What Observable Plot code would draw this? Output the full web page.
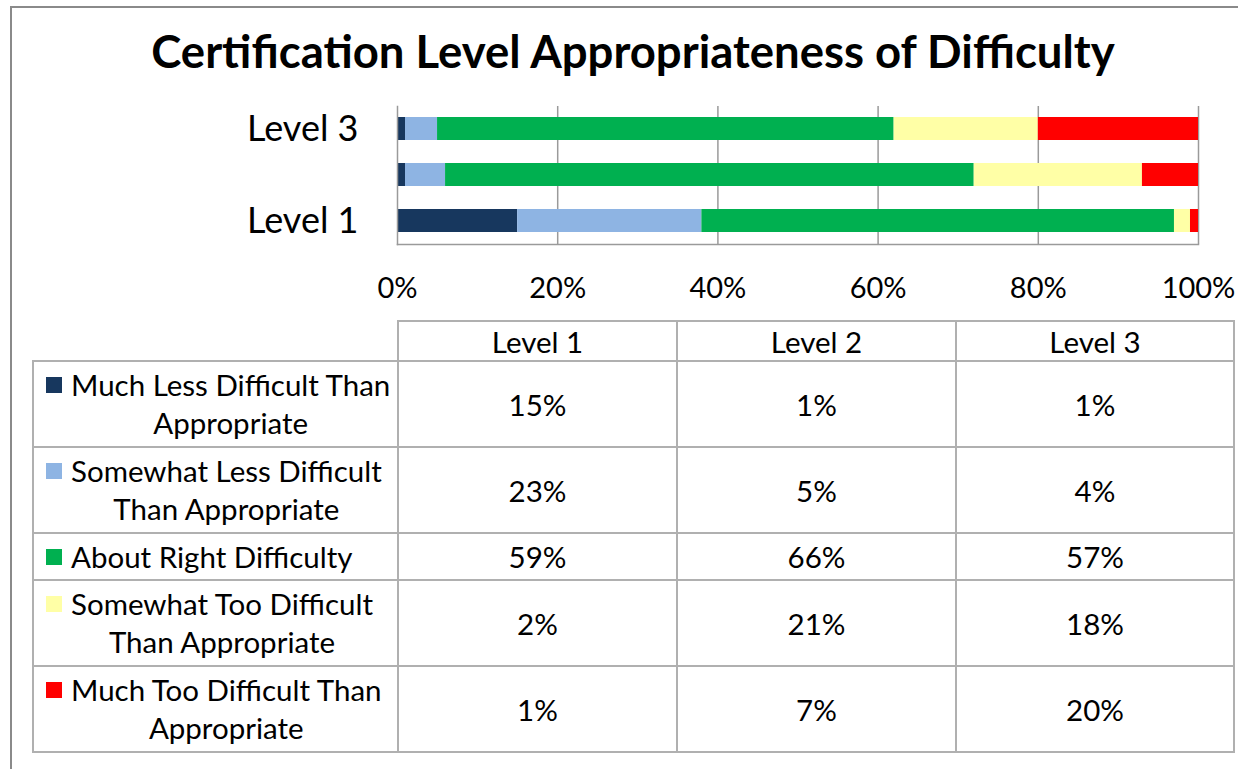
<!DOCTYPE html>
<html>
<head>
<meta charset="utf-8">
<script src="https://cdn.jsdelivr.net/npm/d3@7"></script>
<script src="https://cdn.jsdelivr.net/npm/@observablehq/plot@0.6"></script>
<style>
  html, body { margin: 0; padding: 0; background: #fff; overflow: hidden; }
  #root { position: relative; width: 1238px; height: 769px; overflow: hidden; font-family: Lato, "Open Sans", sans-serif; color: #000; }
  #frame { position: absolute; left: 10px; top: 6px; width: 1300px; height: 800px; border-left: 2px solid #8a8a8a; border-top: 2px solid #8a8a8a; }
  #title { position: absolute; left: 0; top: 28px; width: 1266px; text-align: center; font-weight: 700; font-size: 45.5px; line-height: 45px; white-space: nowrap; }
  #chart { position: absolute; left: 0; top: 100px; }
  #table { position: absolute; left: 32px; top: 320px; border-collapse: collapse; font-size: 29.5px; table-layout: fixed; }
  #table td { border: 2px solid #b0b0b0; padding: 0; text-align: center; vertical-align: middle; }
  #table td.blank { border-top: none; border-left: none; }
  .lab { display: flex; align-items: flex-start; padding-left: 12px; text-align: left; }
  .key { width: 16px; height: 16px; margin-top: 11px; margin-right: 9px; flex: none; }
  .txt { display: inline-block; text-align: center; line-height: 38px; white-space: nowrap; }
</style>
</head>
<body>
<div id="root">
  <div id="frame"></div>
  <div id="title"></div>
  <div id="chart"></div>
  <table id="table"></table>
</div>
<script>
const chartTitle = "Certification Level Appropriateness of Difficulty";
const levels = ["Level 1", "Level 2", "Level 3"];
const categories = [
  "Much Less Difficult Than Appropriate",
  "Somewhat Less Difficult Than Appropriate",
  "About Right Difficulty",
  "Somewhat Too Difficult Than Appropriate",
  "Much Too Difficult Than Appropriate"
];
// legend label lines as wrapped in the original
const categoryLines = [
  ["Much Less Difficult Than", "Appropriate"],
  ["Somewhat Less Difficult", "Than Appropriate"],
  ["About Right Difficulty"],
  ["Somewhat Too Difficult", "Than Appropriate"],
  ["Much Too Difficult Than", "Appropriate"]
];
// values (%) for Level 1, Level 2, Level 3
const muchLessDifficult = [15, 1, 1];
const somewhatLessDifficult = [23, 5, 4];
const aboutRightDifficulty = [59, 66, 57];
const somewhatTooDifficult = [2, 21, 18];
const muchTooDifficult = [1, 7, 20];
const xTicks = [0, 20, 40, 60, 80, 100];
const colors = ["#17375E", "#8EB4E3", "#00B050", "#FFFFA6", "#FF0000"];

const seriesValues = [muchLessDifficult, somewhatLessDifficult, aboutRightDifficulty, somewhatTooDifficult, muchTooDifficult];
const data = categories.flatMap((c, i) => levels.map((l, j) => ({category: c, level: l, value: seriesValues[i][j]})));

document.getElementById("title").textContent = chartTitle;

const chart = Plot.plot({
  width: 1238,
  height: 210,
  marginLeft: 397,
  marginRight: 40,
  marginTop: 6,
  marginBottom: 66,
  style: {fontFamily: "Lato, sans-serif", fontSize: "28px", color: "#000", background: "transparent"},
  x: {domain: [0, 100]},
  y: {domain: ["Level 3", "Level 2", "Level 1"], paddingInner: 0.49, paddingOuter: 0.22},
  color: {domain: categories, range: colors},
  marks: [
    Plot.gridX(xTicks.slice(1), {stroke: "#9a9a9a", strokeOpacity: 1, strokeWidth: 1.5}),
    Plot.barX(data, Plot.stackX({x: "value", y: "level", fill: "category", order: categories})),
    Plot.frame({anchor: "bottom", stroke: "#9a9a9a", strokeWidth: 1.5}),
    Plot.frame({anchor: "left", stroke: "#9a9a9a", strokeWidth: 1.5}),
    Plot.axisX(xTicks, {tickSize: 0, tickPadding: 33, tickFormat: d => d + "%", label: null, fontSize: 29}),
    Plot.axisY({tickSize: 0, tickPadding: 39, tickFormat: d => d === "Level 2" ? "" : d, label: null, fontSize: 36})
  ]
});
document.getElementById("chart").appendChild(chart);

// data table with legend keys
const table = document.getElementById("table");
const colWidths = [365, 279, 279, 278];
const colgroup = document.createElement("colgroup");
colWidths.forEach(w => { const c = document.createElement("col"); c.style.width = w + "px"; colgroup.appendChild(c); });
table.appendChild(colgroup);

const head = document.createElement("tr");
head.style.height = "40px";
const blank = document.createElement("td"); blank.className = "blank"; head.appendChild(blank);
levels.forEach(l => { const td = document.createElement("td"); td.textContent = l; head.appendChild(td); });
table.appendChild(head);

const rowHeights = [86, 86, 47, 86, 86];
categories.forEach((c, i) => {
  const tr = document.createElement("tr");
  tr.style.height = rowHeights[i] + "px";
  const lab = document.createElement("td");
  const wrap = document.createElement("div"); wrap.className = "lab";
  const key = document.createElement("span"); key.className = "key"; key.style.background = colors[i];
  const txt = document.createElement("span"); txt.className = "txt";
  txt.innerHTML = categoryLines[i].join("<br>");
  wrap.appendChild(key); wrap.appendChild(txt); lab.appendChild(wrap);
  tr.appendChild(lab);
  seriesValues[i].forEach(v => { const td = document.createElement("td"); td.textContent = v + "%"; tr.appendChild(td); });
  table.appendChild(tr);
});
</script>
</body>
</html>
